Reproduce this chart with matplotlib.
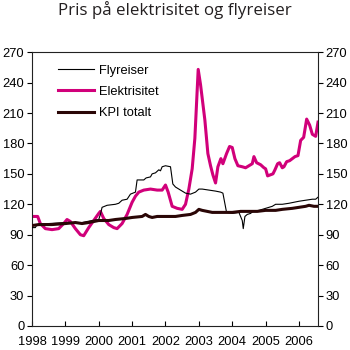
import matplotlib
matplotlib.use("Agg")
import matplotlib.pyplot as plt

# Elektrisitet (magenta)
el_t = [1998.0, 1998.17, 1998.25, 1998.4, 1998.6, 1998.8, 1998.95, 1999.05, 1999.15, 1999.3,
        1999.45, 1999.55, 1999.7, 1999.85, 2000.0, 2000.05, 2000.15, 2000.3, 2000.45, 2000.55,
        2000.7, 2000.85, 2001.0, 2001.1, 2001.2, 2001.35, 2001.55, 2001.75, 2001.9, 2002.0,
        2002.08, 2002.2, 2002.35, 2002.5, 2002.6, 2002.7, 2002.8, 2002.88, 2002.98, 2003.05,
        2003.18, 2003.27, 2003.35, 2003.42, 2003.5, 2003.57, 2003.66, 2003.72, 2003.83, 2003.92,
        2004.0, 2004.08, 2004.17, 2004.3, 2004.4, 2004.5, 2004.6, 2004.65, 2004.73, 2004.85,
        2004.95, 2005.0, 2005.06, 2005.22, 2005.28, 2005.36, 2005.42, 2005.5, 2005.55, 2005.63,
        2005.72, 2005.8, 2005.88, 2005.97, 2006.05, 2006.14, 2006.23, 2006.32, 2006.4, 2006.5,
        2006.57]
el_v = [108, 108, 101, 96, 95, 96, 101, 105, 103, 96,
        90, 89, 97, 104, 111, 113, 106, 100, 97, 96,
        101, 110, 122, 128, 132, 134, 135, 134, 134, 139,
        132, 118, 116, 115, 120, 135, 155, 185, 253, 238,
        203, 170, 158, 149, 141, 157, 165, 160, 170, 177,
        176, 165, 158, 157, 156, 158, 160, 167, 161, 159,
        156, 155, 148, 150, 154, 160, 161, 156, 157, 162,
        163, 165, 167, 168, 183, 186, 204, 198, 189, 187,
        201]

# Flyreiser (thin black)
fly_t = [1998.0, 1998.1, 1998.15, 1998.5, 1999.0, 1999.5, 1999.8, 2000.0, 2000.05, 2000.1,
         2000.25, 2000.5, 2000.6, 2000.7, 2000.85, 2000.95, 2001.1, 2001.15, 2001.35, 2001.42,
         2001.55, 2001.6, 2001.7, 2001.8, 2001.85, 2001.9, 2002.0, 2002.15, 2002.22, 2002.3,
         2002.45, 2002.6, 2002.75, 2002.9, 2003.0, 2003.1, 2003.3, 2003.5, 2003.65, 2003.72,
         2003.83, 2004.0, 2004.2, 2004.3, 2004.33, 2004.38, 2004.45, 2004.55, 2004.62, 2004.8,
         2005.0, 2005.2, 2005.3, 2005.5, 2005.7, 2005.85, 2006.0, 2006.2, 2006.4, 2006.5,
         2006.57]
fly_v = [97, 97, 100, 101, 102, 102, 104, 105, 110, 117,
         119, 120, 121, 124, 125, 130, 132, 144, 144, 146,
         147, 150, 151, 154, 153, 157, 158, 157, 140, 137,
         134, 131, 130, 132, 135, 135, 134, 133, 132, 131,
         112, 111, 112, 104, 96, 108, 110, 111, 113, 114,
         116, 118, 120, 120, 121, 122, 123, 124, 125, 125,
         127]

# KPI totalt (thick dark)
kpi_t = [1998.0, 1998.2, 1998.6, 1999.0, 1999.3, 1999.5, 1999.7, 2000.0, 2000.3, 2000.5,
         2000.8, 2001.0, 2001.3, 2001.4, 2001.5, 2001.6, 2001.75, 2002.0, 2002.3, 2002.5,
         2002.75, 2002.9, 2003.0, 2003.1, 2003.25, 2003.4, 2003.6, 2003.8, 2004.0, 2004.25,
         2004.5, 2004.75, 2005.0, 2005.3, 2005.5, 2005.8, 2006.0, 2006.2, 2006.3, 2006.45,
         2006.57]
kpi_v = [99, 100, 100, 101, 102, 101, 102, 104, 104, 105,
         106, 107, 108, 110, 108, 107, 108, 108, 108, 109,
         110, 112, 115, 114, 113, 112, 112, 112, 112, 113,
         113, 113, 114, 114, 115, 116, 117, 118, 119, 118,
         118]

years = list(range(1998, 2007))
yticks = list(range(0, 271, 30))

plt.rcParams['font.family'] = ['Liberation Sans', 'DejaVu Sans']

fig = plt.figure(figsize=(3.5, 3.5), dpi=100)
ax = fig.add_axes([0.0914, 0.0686, 0.8172, 0.7824])

ax.plot(fly_t, fly_v, color='black', lw=0.8, label='Flyreiser', zorder=3)
ax.plot(el_t, el_v, color='#d1007a', lw=2.2, label='Elektrisitet', zorder=2)
ax.plot(kpi_t, kpi_v, color='#2a0606', lw=2.2, label='KPI totalt', zorder=4)

ax.set_xlim(1998, 2006.57)
ax.set_ylim(0, 270)
ax.set_yticks(yticks)
ax.set_xticks(years)
ax.set_xticklabels([str(y) for y in years])
ax.tick_params(axis='x', direction='in', length=3.5, width=0.8, labelsize=9.3, pad=7)
ax.tick_params(axis='y', direction='out', length=3.5, width=0.8, labelsize=9.3,
               left=True, right=True, labelleft=True, labelright=True, pad=2)
for s in ax.spines.values():
    s.set_linewidth(0.8)
    s.set_color('#222222')

ax.legend(loc='upper left', bbox_to_anchor=(0.09, 0.955), frameon=False,
          fontsize=9.3, handlelength=2.8, handletextpad=0.4, labelspacing=0.72,
          borderpad=0, borderaxespad=0)

fig.text(0.5, 0.958, 'Pris på elektrisitet og flyreiser', ha='center', va='baseline',
         fontsize=12.2, color='#231f20', family=['Open Sans', 'DejaVu Sans'])

fig.savefig('out.png', dpi=100)
